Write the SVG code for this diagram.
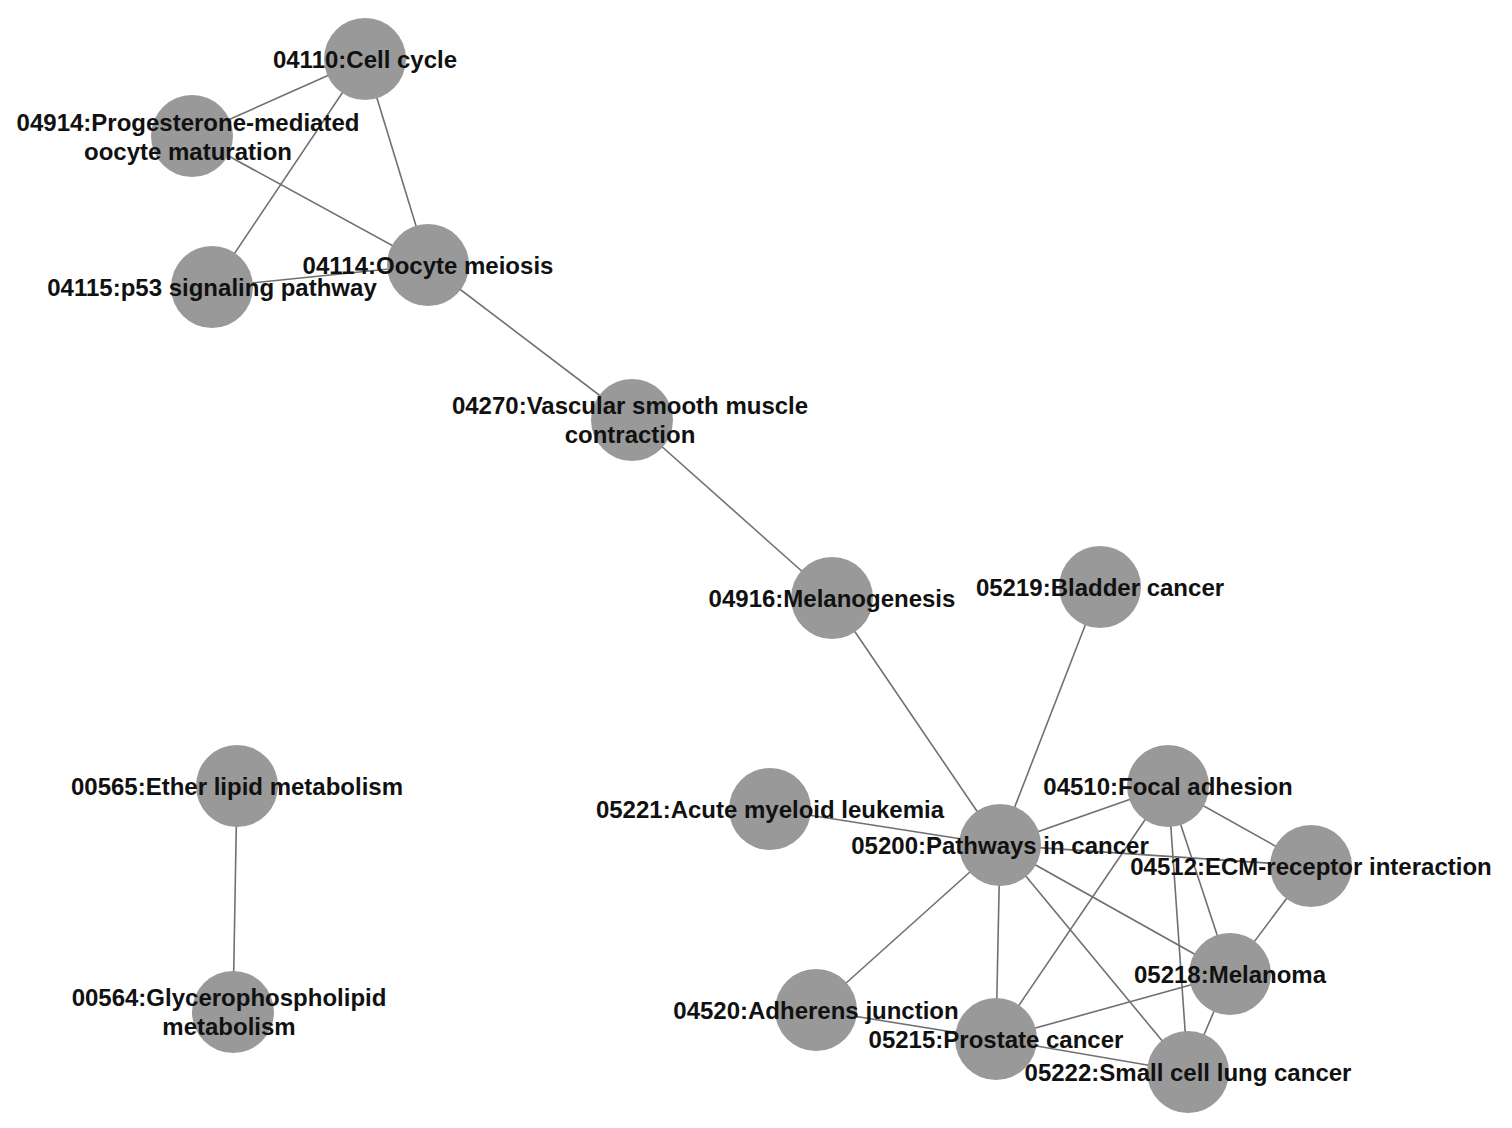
<svg xmlns="http://www.w3.org/2000/svg" width="1512" height="1128" viewBox="0 0 1512 1128">
<style>
.e{stroke:#707070;stroke-width:1.6;fill:none}
.n circle{fill:#999999}
.n text{font-family:"Liberation Sans",Arial,sans-serif;font-weight:bold;font-size:24px;fill:#111;text-anchor:middle}
</style>
<rect width="1512" height="1128" fill="#fff"/>
<g id="edges">
<line class="e" x1="365" y1="59" x2="192" y2="136"/>
<line class="e" x1="365" y1="59" x2="428" y2="265"/>
<line class="e" x1="365" y1="59" x2="212" y2="287"/>
<line class="e" x1="192" y1="136" x2="428" y2="265"/>
<line class="e" x1="212" y1="287" x2="428" y2="265"/>
<line class="e" x1="428" y1="265" x2="632" y2="420"/>
<line class="e" x1="632" y1="420" x2="832" y2="598"/>
<line class="e" x1="832" y1="598" x2="1000" y2="845"/>
<line class="e" x1="1100" y1="587" x2="1000" y2="845"/>
<line class="e" x1="770" y1="809" x2="1000" y2="845"/>
<line class="e" x1="1000" y1="845" x2="1168" y2="786"/>
<line class="e" x1="1000" y1="845" x2="1311" y2="866"/>
<line class="e" x1="1000" y1="845" x2="1230" y2="974"/>
<line class="e" x1="1000" y1="845" x2="816" y2="1010"/>
<line class="e" x1="1000" y1="845" x2="996" y2="1039"/>
<line class="e" x1="1000" y1="845" x2="1188" y2="1072"/>
<line class="e" x1="1168" y1="786" x2="1311" y2="866"/>
<line class="e" x1="1168" y1="786" x2="1230" y2="974"/>
<line class="e" x1="1168" y1="786" x2="1188" y2="1072"/>
<line class="e" x1="1168" y1="786" x2="996" y2="1039"/>
<line class="e" x1="1311" y1="866" x2="1230" y2="974"/>
<line class="e" x1="1230" y1="974" x2="996" y2="1039"/>
<line class="e" x1="1230" y1="974" x2="1188" y2="1072"/>
<line class="e" x1="816" y1="1010" x2="996" y2="1039"/>
<line class="e" x1="996" y1="1039" x2="1188" y2="1072"/>
<line class="e" x1="237" y1="786" x2="233" y2="1012"/>
</g>
<g id="n04110" class="n"><circle cx="365" cy="59" r="41"/><text x="365" y="68">04110:Cell cycle</text></g>
<g id="n04914" class="n"><circle cx="192" cy="136" r="41"/><text x="188" y="131">04914:Progesterone-mediated</text><text x="188" y="160">oocyte maturation</text></g>
<g id="n04115" class="n"><circle cx="212" cy="287" r="41"/><text x="212" y="296">04115:p53 signaling pathway</text></g>
<g id="n04114" class="n"><circle cx="428" cy="265" r="41"/><text x="428" y="274">04114:Oocyte meiosis</text></g>
<g id="n04270" class="n"><circle cx="632" cy="420" r="41"/><text x="630" y="414">04270:Vascular smooth muscle</text><text x="630" y="443">contraction</text></g>
<g id="n04916" class="n"><circle cx="832" cy="598" r="41"/><text x="832" y="607">04916:Melanogenesis</text></g>
<g id="n05219" class="n"><circle cx="1100" cy="587" r="41"/><text x="1100" y="596">05219:Bladder cancer</text></g>
<g id="n00565" class="n"><circle cx="237" cy="786" r="41"/><text x="237" y="795">00565:Ether lipid metabolism</text></g>
<g id="n00564" class="n"><circle cx="233" cy="1012" r="41"/><text x="229" y="1006">00564:Glycerophospholipid</text><text x="229" y="1035">metabolism</text></g>
<g id="n05221" class="n"><circle cx="770" cy="809" r="41"/><text x="770" y="818">05221:Acute myeloid leukemia</text></g>
<g id="n05200" class="n"><circle cx="1000" cy="845" r="41"/><text x="1000" y="854">05200:Pathways in cancer</text></g>
<g id="n04510" class="n"><circle cx="1168" cy="786" r="41"/><text x="1168" y="795">04510:Focal adhesion</text></g>
<g id="n04512" class="n"><circle cx="1311" cy="866" r="41"/><text x="1311" y="875">04512:ECM-receptor interaction</text></g>
<g id="n05218" class="n"><circle cx="1230" cy="974" r="41"/><text x="1230" y="983">05218:Melanoma</text></g>
<g id="n04520" class="n"><circle cx="816" cy="1010" r="41"/><text x="816" y="1019">04520:Adherens junction</text></g>
<g id="n05215" class="n"><circle cx="996" cy="1039" r="41"/><text x="996" y="1048">05215:Prostate cancer</text></g>
<g id="n05222" class="n"><circle cx="1188" cy="1072" r="41"/><text x="1188" y="1081">05222:Small cell lung cancer</text></g>
</svg>
